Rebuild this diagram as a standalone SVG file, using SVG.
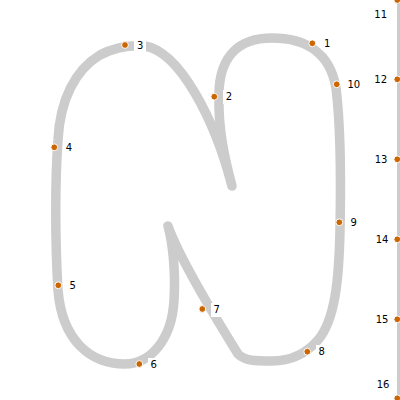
<svg xmlns="http://www.w3.org/2000/svg" width="400" height="400" viewBox="0 0 400 400">
<style>
.glyph{fill:none;stroke:#cccccc;stroke-width:9.5;stroke-linecap:round;stroke-linejoin:round}
.axis{fill:none;stroke:#cccccc;stroke-width:3}
.pt{fill:#cc6600;stroke:#ffffff;stroke-width:1}
.lbl{font-family:"DejaVu Sans",sans-serif;font-size:10px;fill:#000}
.bg{fill:#ffffff}
</style>
<rect width="400" height="400" fill="#ffffff"/>
<g id="connectors">
<path class="glyph" d="M 232,186 C 225,160 218,130 219,95 C 219,55 240,38 272,38 C 305,38 330,52 336,88 C 340,120 341,180 340,230 C 339,280 335,320 318,340 C 305,355 290,361 272,361 C 255,361 245,361 238,354 C 220,325 180,260 168,226 C 172,240 176,270 174,300 C 172,340 150,364 125,364 C 90,364 62,340 58,290 C 55,240 55,180 58,140 C 60,100 75,70 100,55 C 115,47 130,45 145,46 C 180,52 215,120 232,186"/>
<line class="axis" x1="398.5" y1="0" x2="398.5" y2="400"/>
</g>
<g id="n1"><circle class="pt" cx="312.3" cy="43.3" r="3.4"/><rect class="bg" x="321" y="37" width="11" height="13"/><text class="lbl" x="324" y="47">1</text></g>
<g id="n2"><circle class="pt" cx="214.3" cy="96.7" r="3.4"/><rect class="bg" x="223" y="90" width="11" height="14"/><text class="lbl" x="225.7" y="100.3">2</text></g>
<g id="n3"><circle class="pt" cx="125" cy="45" r="3.4"/><rect class="bg" x="134" y="39.5" width="12" height="13"/><text class="lbl" x="137" y="48.7">3</text></g>
<g id="n4"><circle class="pt" cx="54.3" cy="147.3" r="3.4"/><rect class="bg" x="63" y="141" width="11" height="14"/><text class="lbl" x="65.7" y="150.7">4</text></g>
<g id="n5"><circle class="pt" cx="58.3" cy="285.3" r="3.4"/><rect class="bg" x="67" y="279" width="11" height="14"/><text class="lbl" x="69.5" y="288.7">5</text></g>
<g id="n6"><circle class="pt" cx="139.3" cy="364" r="3.4"/><rect class="bg" x="148" y="358" width="11" height="14"/><text class="lbl" x="150.5" y="367.5">6</text></g>
<g id="n7"><circle class="pt" cx="202.3" cy="309" r="3.4"/><rect class="bg" x="211" y="303" width="11" height="14"/><text class="lbl" x="213.5" y="312.5">7</text></g>
<g id="n8"><circle class="pt" cx="307.3" cy="351.7" r="3.4"/><rect class="bg" x="316" y="345" width="10" height="13"/><text class="lbl" x="318.5" y="355">8</text></g>
<g id="n9"><circle class="pt" cx="339.3" cy="222.3" r="3.4"/><rect class="bg" x="348" y="216" width="11" height="13"/><text class="lbl" x="350.5" y="225.7">9</text></g>
<g id="n10"><circle class="pt" cx="336.7" cy="84.3" r="3.4"/><rect class="bg" x="345" y="78" width="16" height="13"/><text class="lbl" x="347.5" y="88">10</text></g>
<g id="n11"><circle class="pt" cx="397.3" cy="0" r="3.4"/><text class="lbl" x="374.3" y="18.3">11</text></g>
<g id="n12"><circle class="pt" cx="397.3" cy="79.3" r="3.4"/><text class="lbl" x="374.3" y="82.7">12</text></g>
<g id="n13"><circle class="pt" cx="397.3" cy="159.3" r="3.4"/><text class="lbl" x="374.7" y="162.7">13</text></g>
<g id="n14"><circle class="pt" cx="397.3" cy="239.3" r="3.4"/><text class="lbl" x="375.7" y="242.5">14</text></g>
<g id="n15"><circle class="pt" cx="397.3" cy="319.3" r="3.4"/><text class="lbl" x="375.7" y="322.5">15</text></g>
<g id="n16"><circle class="pt" cx="397.3" cy="398.3" r="3.4"/><text class="lbl" x="376.7" y="388.3">16</text></g>
</svg>
